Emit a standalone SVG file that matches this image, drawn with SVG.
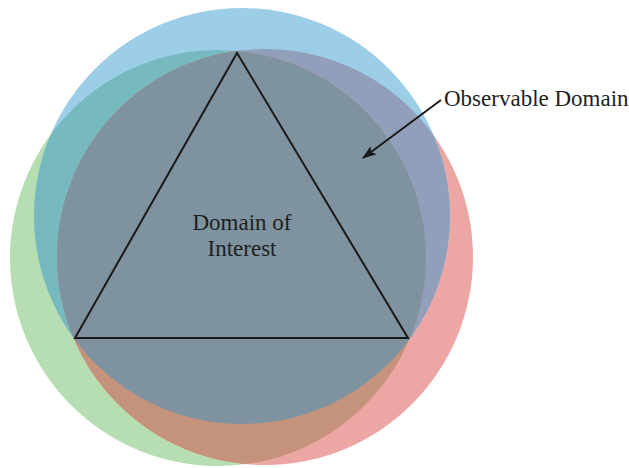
<svg xmlns="http://www.w3.org/2000/svg" width="629" height="468" viewBox="0 0 629 468">
  <style>
    .lbl { font-family: "Liberation Serif", "Times New Roman", serif; font-size: 23px; fill: #1f1f1f; }
    .edge { stroke: #1a1a1a; stroke-width: 2; fill: none; }
  </style>
  <defs>
    <clipPath id="clipB"><circle cx="242" cy="216" r="208"/></clipPath>
    <clipPath id="clipG"><circle cx="218" cy="258" r="208"/></clipPath>
    <marker id="arrow" viewBox="0 0 14 10" refX="13" refY="5" markerWidth="14" markerHeight="10" markerUnits="userSpaceOnUse" orient="auto">
      <path d="M0,0 L14,5 L0,10 L3,5 z" fill="#1a1a1a"/>
    </marker>
  </defs>
  <rect width="629" height="468" fill="#ffffff"/>
  <g id="circle-green"><circle cx="218" cy="258" r="208" fill="#b6deb2"/></g>
  <g id="circle-red"><circle cx="265" cy="257" r="208" fill="#eca6a4"/></g>
  <g id="circle-blue"><circle cx="242" cy="216" r="208" fill="#9ccfe7"/></g>
  <g id="overlaps">
    <circle cx="218" cy="258" r="208" fill="#76bac0" clip-path="url(#clipB)"/>
    <circle cx="265" cy="257" r="208" fill="#929fba" clip-path="url(#clipB)"/>
    <circle cx="265" cy="257" r="208" fill="#c5937b" clip-path="url(#clipG)"/>
    <g clip-path="url(#clipB)">
      <circle cx="265" cy="257" r="208" fill="#7e939f" clip-path="url(#clipG)"/>
    </g>
  </g>
  <g id="domain-of-interest">
    <polygon points="237,53 75,338 408,338" fill="none" stroke="#1a1a1a" stroke-width="2" stroke-linejoin="miter"/>
    <text class="lbl" x="242" y="230" text-anchor="middle">Domain of</text>
    <text class="lbl" x="242" y="256" text-anchor="middle">Interest</text>
  </g>
  <g id="observable-domain">
    <text class="lbl" x="444" y="106">Observable Domain</text>
  </g>
  <g id="connectors">
    <line class="edge" x1="441" y1="100" x2="363" y2="158" marker-end="url(#arrow)"/>
  </g>
</svg>
